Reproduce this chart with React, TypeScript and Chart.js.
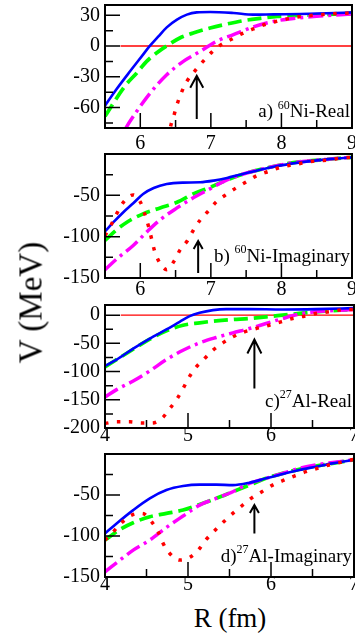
import React, { useEffect, useRef } from "react";
import { Chart, registerables } from "chart.js";
Chart.register(...registerables);

const FONT = '"Liberation Serif", "Times New Roman", serif';

// ---------- Panel a) 60Ni-Real ----------
const A_BLUE_R = [5.5, 5.665, 5.855, 6.02, 6.138, 6.257, 6.375, 6.52, 6.66, 6.8, 6.99, 7.32, 7.6, 7.89, 8.27, 8.64, 9.0];
const A_BLUE_V = [-58.2, -42, -24.7, -10.1, 0.3, 9.4, 18.2, 25.7, 30.6, 32.8, 33.2, 32.2, 30.6, 30.9, 31.2, 31.9, 32.8];
const A_GREEN_R = [5.5, 5.78, 5.95, 6.09, 6.23, 6.4, 6.56, 6.75, 6.99, 7.23, 7.46, 7.7, 7.94, 8.27, 8.64, 9.0];
const A_GREEN_V = [-68.6, -39.3, -26.3, -15, -6.8, 1.3, 7.8, 12.7, 17.6, 21.5, 24.7, 27, 28.9, 29.9, 30.9, 31.5];
const A_MAG_R = [5.79, 5.81, 5.95, 6.14, 6.375, 6.61, 6.85, 7.08, 7.32, 7.56, 7.79, 8.03, 8.5, 9.0];
const A_MAG_V = [-81, -78.4, -63.7, -45.9, -28, -15, -5.2, 4.6, 11.1, 17.6, 22.4, 25.7, 28.9, 31.2];
const A_RED_R = [6.4, 6.43, 6.48, 6.52, 6.59, 6.66, 6.78, 6.89, 7.01, 7.13, 7.3, 7.44, 7.6, 7.79, 7.93, 8.1, 8.29, 8.5, 8.74, 9.0];
const A_RED_V = [-90, -78.4, -67, -57.2, -44.2, -34.5, -23.7, -15, -6.2, 0.6, 6.8, 12, 16.6, 21.5, 24, 26.7, 28.9, 30.2, 31.5, 32.2];
const A_ZERO_R = [5.72, 9.0];
const A_ZERO_V = [0, 0];
const A_X_TICKS = [6, 7, 8, 9];
const A_Y_TICKS = [-60, -30, 0, 30];
const A_ARROW = [6.8, -71.2, -29];

// ---------- Panel b) 60Ni-Imaginary ----------
const B_BLUE_R = [5.5, 5.62, 5.76, 5.9, 6.04, 6.19, 6.375, 6.61, 6.85, 7.04, 7.23, 7.41, 7.65, 7.89, 8.27, 8.64, 9.0];
const B_BLUE_V = [-93.7, -82.5, -70.4, -59.6, -48.3, -41.1, -36.3, -34.6, -34.2, -32.2, -29, -25, -20.2, -15.4, -10.1, -6.5, -4.1];
const B_GREEN_R = [5.5, 5.67, 5.81, 6.04, 6.28, 6.52, 6.75, 6.99, 7.23, 7.46, 7.79, 8.17, 8.64, 9.0];
const B_GREEN_V = [-104.6, -91.3, -82.5, -72.4, -65.2, -58.4, -48.3, -40.3, -31.4, -24.2, -17, -10.5, -6.5, -4.1];
const B_MAG_R = [5.5, 5.67, 5.9, 6.09, 6.28, 6.52, 6.7, 6.94, 7.23, 7.46, 7.79, 8.17, 8.64, 9.0];
const B_MAG_V = [-139.9, -126.7, -110.6, -94.5, -79.7, -65.2, -55.5, -44.3, -31.4, -24.2, -17, -10.5, -6.5, -4.1];
const B_RED_R = [5.5, 5.59, 5.67, 5.76, 5.9, 6.01, 6.07, 6.12, 6.16, 6.2, 6.27, 6.375, 6.48, 6.56, 6.67, 6.75, 6.85, 6.97, 7.08, 7.23, 7.37, 7.51, 7.65, 7.82, 7.98, 8.17, 8.36, 8.5, 8.69, 8.83, 9.0];
const B_RED_V = [-98.6, -85.3, -71.6, -58.4, -49.5, -59.6, -74.4, -88.5, -102.6, -116.6, -130.7, -139.9, -129.5, -116.6, -104.6, -92.5, -79.7, -68.4, -57.6, -48.3, -40.3, -33.4, -26.2, -21, -16.2, -12.9, -10.1, -8.1, -7.3, -4.9, -4.1];
const B_Y_TICKS = [-150, -100, -50];
const B_ARROW = [6.82, -143.9, -105.3];

// ---------- Panel c) 27Al-Real ----------
const C_BLUE_R = [4, 4.14, 4.34, 4.54, 4.74, 4.9, 5.02, 5.14, 5.3, 5.46, 5.74, 6.14, 6.54, 7.0];
const C_BLUE_V = [-89.9, -78.7, -59.2, -41.4, -25.4, -11.8, -1.8, 4.1, 8.9, 10.7, 10.7, 10.1, 10.7, 12.4];
const C_GREEN_R = [4, 4.34, 4.54, 4.74, 4.94, 5.14, 5.34, 5.54, 5.74, 5.94, 6.14, 6.34, 6.54, 7.0];
const C_GREEN_V = [-91.7, -60.4, -42.6, -27.8, -17.8, -13.6, -10.1, -7.7, -5.9, -3, 0, 3, 5.9, 10.1];
const C_MAG_R = [4, 4.14, 4.34, 4.54, 4.74, 4.94, 5.14, 5.34, 5.54, 5.74, 5.94, 6.14, 6.34, 6.54, 7.0];
const C_MAG_V = [-145, -132, -116.6, -98.8, -78.7, -62.1, -49.1, -39.6, -31.4, -23.7, -14.8, -5.9, 1.8, 5.9, 10.1];
const C_RED_R = [4, 4.14, 4.3, 4.44, 4.57, 4.69, 4.78, 4.87, 4.94, 5.01, 5.1, 5.2, 5.3, 5.42, 5.54, 5.68, 5.82, 5.98, 6.12, 6.26, 6.4, 6.54, 6.7, 6.82, 7.0];
const C_RED_V = [-192, -189, -189, -191, -191, -182.2, -165.7, -147.9, -130.2, -110.7, -91.7, -76.9, -62.1, -49.1, -38.5, -29.6, -23.7, -17.8, -11.8, -5.9, -1.8, 3, 5.9, 8.9, 10.1];
const C_ZERO_R = [4.19, 7.0];
const C_ZERO_V = [0, 0];
const C_X_TICKS = [4, 5, 6, 7];
const C_Y_TICKS = [-200, -150, -100, -50, 0];
const C_ARROW = [5.8, -130.2, -43.2];

// ---------- Panel d) 27Al-Imaginary ----------
const D_BLUE_R = [4, 4.14, 4.34, 4.54, 4.74, 4.94, 5.14, 5.34, 5.54, 5.74, 5.94, 6.14, 6.34, 6.54, 6.74, 7.0];
const D_BLUE_V = [-96.9, -84.7, -68.4, -54.1, -44, -39.1, -37.4, -37.4, -37.9, -35, -29.7, -24.4, -19.5, -15.5, -11.4, -7];
const D_GREEN_R = [4, 4.18, 4.34, 4.54, 4.74, 4.94, 5.14, 5.34, 5.54, 5.74, 5.94, 6.14, 6.34, 6.54, 6.74, 7.0];
const D_GREEN_V = [-105, -92, -83.8, -76.5, -72.4, -68.4, -61.5, -54.1, -46, -37.9, -29.7, -23.6, -18.7, -14.7, -11.4, -7];
const D_MAG_R = [4, 4.18, 4.34, 4.54, 4.74, 4.94, 5.14, 5.34, 5.54, 5.74, 5.94, 6.14, 6.34, 6.54, 7.0];
const D_MAG_V = [-143.7, -129.4, -117.2, -105, -89.5, -75.7, -62.3, -54.1, -46, -35.8, -29.7, -23.6, -17.5, -13.4, -7];
const D_RED_R = [4, 4.1, 4.2, 4.32, 4.45, 4.56, 4.64, 4.7, 4.78, 4.9, 5.02, 5.14, 5.22, 5.32, 5.43, 5.54, 5.65, 5.76, 5.89, 6.02, 6.14, 6.28, 6.42, 6.56, 6.7, 6.84, 7.0];
const D_RED_V = [-105, -94.8, -83.8, -74.5, -72.4, -82.6, -94.8, -109, -121.3, -129.4, -126.2, -115.2, -104.2, -93.6, -82.6, -72.4, -63.1, -54.1, -46, -37.9, -32.6, -26.9, -21.6, -17.5, -13.4, -10.2, -6.5];
const D_Y_TICKS = [-150, -100, -50];
const D_ARROW = [5.8, -96.9, -62.3];

type PanelDef = {
  canvasTop: number; top: number; bottom: number; right: number;
  xMin: number; xMax: number; yMin: number; yMax: number;
  xTicks: number[]; yTicks: number[]; xMinor: number; yMinor: number; xPad: number;
  blue: [number[], number[]]; green: [number[], number[]]; mag: [number[], number[]]; red: [number[], number[]];
  zero?: [number[], number[]];
  arrow: number[]; head: [number, number];
  label: { pre: string; sup: string; main: string; base: number };
};

const PANELS: PanelDef[] = [
  {
    canvasTop: 0, top: 5, bottom: 128, right: 352,
    xMin: 5.5, xMax: 9, yMin: -80, yMax: 40, xTicks: A_X_TICKS, yTicks: A_Y_TICKS, xMinor: 0.5, yMinor: 15, xPad: 8,
    blue: [A_BLUE_R, A_BLUE_V], green: [A_GREEN_R, A_GREEN_V], mag: [A_MAG_R, A_MAG_V], red: [A_RED_R, A_RED_V],
    zero: [A_ZERO_R, A_ZERO_V], arrow: A_ARROW, head: [6.5, 12],
    label: { pre: "a) ", sup: "60", main: "Ni-Real", base: -11 },
  },
  {
    canvasTop: 150, top: 154, bottom: 278, right: 352,
    xMin: 5.5, xMax: 9, yMin: -150, yMax: 0, xTicks: A_X_TICKS, yTicks: B_Y_TICKS, xMinor: 0.5, yMinor: 25, xPad: 4,
    blue: [B_BLUE_R, B_BLUE_V], green: [B_GREEN_R, B_GREEN_V], mag: [B_MAG_R, B_MAG_V], red: [B_RED_R, B_RED_V],
    arrow: B_ARROW, head: [4.5, 8],
    label: { pre: "b) ", sup: "60", main: "Ni-Imaginary", base: -16.3 },
  },
  {
    canvasTop: 300, top: 305, bottom: 428, right: 354,
    xMin: 4, xMax: 7, yMin: -200, yMax: 18, xTicks: C_X_TICKS, yTicks: C_Y_TICKS, xMinor: 0.5, yMinor: 25, xPad: 0,
    blue: [C_BLUE_R, C_BLUE_V], green: [C_GREEN_R, C_GREEN_V], mag: [C_MAG_R, C_MAG_V], red: [C_RED_R, C_RED_V],
    zero: [C_ZERO_R, C_ZERO_V], arrow: C_ARROW, head: [7, 14],
    label: { pre: "c)", sup: "27", main: "Al-Real", base: -21.5 },
  },
  {
    canvasTop: 450, top: 454, bottom: 577, right: 354,
    xMin: 4, xMax: 7, yMin: -150, yMax: 0, xTicks: C_X_TICKS, yTicks: D_Y_TICKS, xMinor: 0.5, yMinor: 25, xPad: 0,
    blue: [D_BLUE_R, D_BLUE_V], green: [D_GREEN_R, D_GREEN_V], mag: [D_MAG_R, D_MAG_V], red: [D_RED_R, D_RED_V],
    arrow: D_ARROW, head: [4.5, 8],
    label: { pre: "d)", sup: "27", main: "Al-Imaginary", base: -15.5 },
  },
];

const CANVAS_H = 150;
const W = 355;

function pts(r: number[], v: number[]) {
  return r.map((x, i) => ({ x, y: v[i] }));
}

function PanelChart({ p }: { p: PanelDef }) {
  const ref = useRef<HTMLCanvasElement>(null);
  useEffect(() => {
    const canvas = ref.current!;
    const line = (s: [number[], number[]], color: string, width: number, dash: number[]) => ({
      data: pts(s[0], s[1]),
      borderColor: color,
      borderWidth: width,
      borderDash: dash,
      borderCapStyle: "butt",
      pointRadius: 0,
      fill: false,
      cubicInterpolationMode: "monotone",
      clip: 0,
    });
    const datasets: any[] = [
      line(p.red, "#ff0000", 3.5, [3.5, 8.5]),
      line(p.blue, "#0000ff", 2.6, []),
      line(p.mag, "#ff00ff", 3.5, [15, 5, 3, 5]),
      line(p.green, "#00ff00", 3.7, [14, 6]),
    ];
    if (p.zero) datasets.push({ ...line(p.zero, "#ff0000", 1.3, []), cubicInterpolationMode: "default", tension: 0 });

    const frame = {
      id: "frame",
      afterDatasetsDraw(chart: any) {
        const ctx = chart.ctx as CanvasRenderingContext2D;
        const a = chart.chartArea;
        const xs = chart.scales.x;
        const ys = chart.scales.y;
        ctx.save();
        ctx.strokeStyle = "#000";
        ctx.fillStyle = "#000";
        // tick marks (major + minor), inward
        ctx.lineWidth = 1.5;
        ctx.beginPath();
        const near = (arr: number[], v: number) => arr.some((t) => Math.abs(t - v) < 1e-6);
        for (let n = Math.ceil(p.xMin / p.xMinor - 1e-9); n * p.xMinor <= p.xMax + 1e-9; n++) {
          const v = n * p.xMinor;
          const len = near(p.xTicks, v) ? 15 : 8;
          const px = xs.getPixelForValue(v);
          ctx.moveTo(px, a.bottom);
          ctx.lineTo(px, a.bottom - len);
        }
        for (let n = Math.ceil(p.yMin / p.yMinor - 1e-9); n * p.yMinor <= p.yMax + 1e-9; n++) {
          const v = n * p.yMinor;
          const len = near(p.yTicks, v) ? 15 : 8;
          const py = ys.getPixelForValue(v);
          ctx.moveTo(a.left, py);
          ctx.lineTo(a.left + len, py);
        }
        ctx.stroke();
        // frame
        ctx.lineWidth = 2;
        ctx.strokeRect(a.left, a.top, a.right - a.left, a.bottom - a.top);
        // arrow
        const ax = xs.getPixelForValue(p.arrow[0]);
        const y0 = ys.getPixelForValue(p.arrow[1]);
        const y1 = ys.getPixelForValue(p.arrow[2]);
        ctx.lineWidth = 2;
        ctx.beginPath();
        ctx.moveTo(ax, y0);
        ctx.lineTo(ax, y1);
        ctx.moveTo(ax - p.head[0], y1 + p.head[1]);
        ctx.lineTo(ax, y1);
        ctx.lineTo(ax + p.head[0], y1 + p.head[1]);
        ctx.stroke();
        // label
        const mainFont = `19px ${FONT}`;
        const supFont = `12px ${FONT}`;
        ctx.textBaseline = "alphabetic";
        ctx.textAlign = "left";
        ctx.font = mainFont;
        const w1 = ctx.measureText(p.label.pre).width;
        const w3 = ctx.measureText(p.label.main).width;
        ctx.font = supFont;
        const w2 = ctx.measureText(p.label.sup).width;
        const base = a.bottom + p.label.base;
        const x0 = a.right - 2 - (w1 + w2 + w3);
        ctx.font = mainFont;
        ctx.fillText(p.label.pre, x0, base);
        ctx.fillText(p.label.main, x0 + w1 + w2, base);
        ctx.font = supFont;
        ctx.fillText(p.label.sup, x0 + w1, base - 8.5);
        ctx.restore();
      },
    };

    const zeroPad = (s: any) => {
      s.paddingLeft = 0;
      s.paddingRight = 0;
      s.paddingTop = 0;
      s.paddingBottom = 0;
    };

    const chart = new Chart(canvas, {
      type: "line",
      data: { datasets },
      options: {
        responsive: false,
        animation: false,
        devicePixelRatio: 1,
        layout: {
          autoPadding: false,
          padding: { left: 0, top: p.top - p.canvasTop, right: W - p.right, bottom: 0 },
        },
        plugins: { legend: { display: false }, tooltip: { enabled: false } },
        scales: {
          x: {
            type: "linear",
            position: "bottom",
            min: p.xMin,
            max: p.xMax,
            bounds: "data",
            grid: { display: false, drawTicks: false },
            border: { display: false },
            ticks: { color: "#000", padding: p.xPad, font: { family: FONT, size: 20, lineHeight: 0.8 }, maxRotation: 0, autoSkip: false },
            afterBuildTicks: (s: any) => {
              s.ticks = p.xTicks.map((v) => ({ value: v }));
            },
            afterFit: (s: any) => {
              s.height = p.canvasTop + CANVAS_H - p.bottom;
              zeroPad(s);
            },
          },
          y: {
            type: "linear",
            position: "left",
            min: p.yMin,
            max: p.yMax,
            bounds: "data",
            grid: { display: false, drawTicks: false },
            border: { display: false },
            ticks: { color: "#000", padding: 5, font: { family: FONT, size: 20 }, autoSkip: false },
            afterBuildTicks: (s: any) => {
              s.ticks = p.yTicks.map((v) => ({ value: v }));
            },
            afterFit: (s: any) => {
              s.width = 105;
              zeroPad(s);
            },
          },
        },
      } as any,
      plugins: [frame],
    });
    return () => chart.destroy();
  }, [p]);
  return (
    <canvas
      ref={ref}
      width={W}
      height={CANVAS_H}
      style={{ position: "absolute", left: 0, top: p.canvasTop, width: W, height: CANVAS_H }}
    />
  );
}

export default function App() {
  return (
    <div style={{ position: "absolute", left: 0, top: 0, width: W, height: 633, overflow: "hidden", background: "#fff" }}>
      {PANELS.map((p, i) => (
        <PanelChart key={i} p={p} />
      ))}
      <div
        style={{
          position: "absolute",
          left: 30.6 - 100,
          top: 302 - 16.5,
          width: 200,
          height: 33,
          fontFamily: FONT,
          fontSize: 33,
          lineHeight: "33px",
          textAlign: "center",
          whiteSpace: "nowrap",
          color: "#000",
          transform: "rotate(-90deg)",
          transformOrigin: "center",
        }}
      >
        V (MeV)
      </div>
      <div
        style={{
          position: "absolute",
          left: 130,
          top: 605.4,
          width: 200,
          height: 27,
          fontFamily: FONT,
          fontSize: 27,
          lineHeight: "27px",
          textAlign: "center",
          whiteSpace: "nowrap",
          color: "#000",
        }}
      >
        R (fm)
      </div>
    </div>
  );
}
